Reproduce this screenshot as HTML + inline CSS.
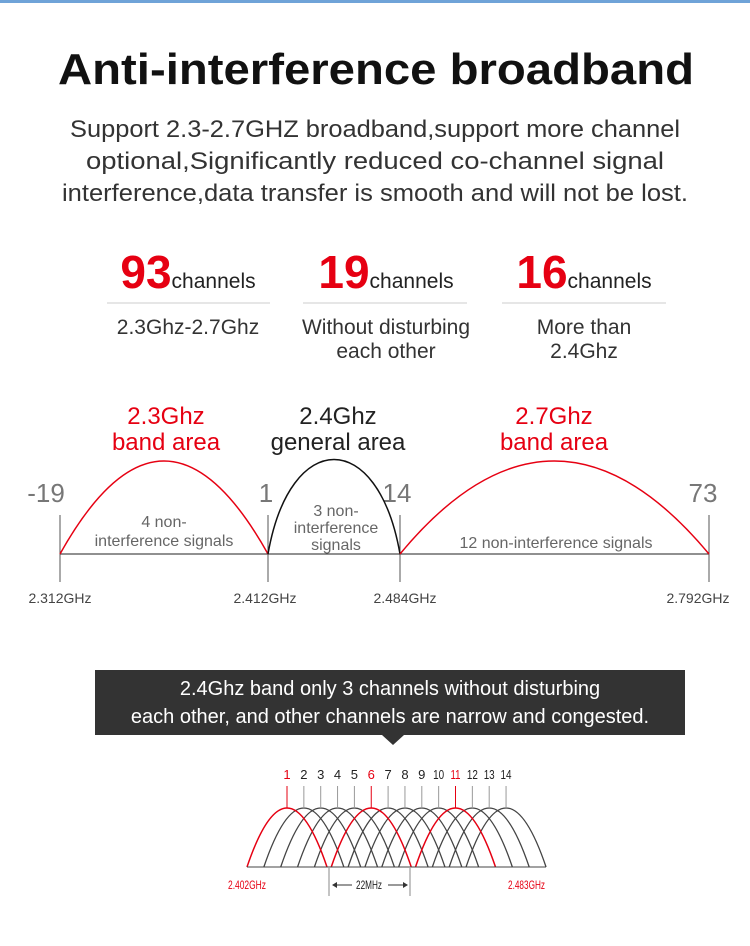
<!DOCTYPE html>
<html><head><meta charset="utf-8"><style>
body{margin:0;width:750px;height:946px;background:#fff;overflow:hidden;font-family:"Liberation Sans",sans-serif;}
svg{position:absolute;left:0;top:0}
</style></head><body>
<svg width="750" height="946" viewBox="0 0 750 946" xmlns="http://www.w3.org/2000/svg" font-family="Liberation Sans, sans-serif">
<rect x="0" y="0" width="750" height="3" fill="#6fa3d8"/>
<text x="376" y="84" text-anchor="middle" font-size="44" font-weight="bold" fill="#111" textLength="636" lengthAdjust="spacingAndGlyphs">Anti-interference  broadband</text>
<g font-size="24" fill="#333" text-anchor="middle">
<text x="375" y="137" textLength="610" lengthAdjust="spacingAndGlyphs">Support 2.3-2.7GHZ broadband,support more channel</text>
<text x="375" y="169" textLength="578" lengthAdjust="spacingAndGlyphs">optional,Significantly reduced co-channel signal</text>
<text x="375" y="201" textLength="626" lengthAdjust="spacingAndGlyphs">interference,data transfer is smooth and will not be lost.</text>
</g>
<g text-anchor="middle">
<text x="188" y="288"><tspan font-size="46" font-weight="bold" fill="#e60012">93</tspan><tspan font-size="21" fill="#222">channels</tspan></text>
<text x="386" y="288"><tspan font-size="46" font-weight="bold" fill="#e60012">19</tspan><tspan font-size="21" fill="#222">channels</tspan></text>
<text x="584" y="288"><tspan font-size="46" font-weight="bold" fill="#e60012">16</tspan><tspan font-size="21" fill="#222">channels</tspan></text>
</g>
<g stroke="#ccc" stroke-width="1"><line x1="107" y1="303" x2="270" y2="303"/><line x1="303" y1="303" x2="467" y2="303"/><line x1="502" y1="303" x2="666" y2="303"/></g>
<g font-size="21" fill="#333" text-anchor="middle">
<text x="188" y="334">2.3Ghz-2.7Ghz</text>
<text x="386" y="334">Without disturbing</text><text x="386" y="358">each other</text>
<text x="584" y="334">More than</text><text x="584" y="358">2.4Ghz</text>
</g>
<g font-size="24" text-anchor="middle">
<text x="166" y="424" fill="#e60012">2.3Ghz</text><text x="166" y="450" fill="#e60012">band area</text>
<text x="338" y="424" fill="#222">2.4Ghz</text><text x="338" y="450" fill="#222">general area</text>
<text x="554" y="424" fill="#e60012">2.7Ghz</text><text x="554" y="450" fill="#e60012">band area</text>
</g>
<g font-size="26" fill="#777" text-anchor="middle">
<text x="46" y="502">-19</text><text x="266" y="502">1</text><text x="397" y="502">14</text><text x="703" y="502">73</text>
</g>
<g stroke="#555" stroke-width="1">
<line x1="60" y1="515" x2="60" y2="582"/><line x1="268" y1="515" x2="268" y2="582"/><line x1="400" y1="515" x2="400" y2="582"/><line x1="709" y1="515" x2="709" y2="582"/>
<line x1="60" y1="554" x2="709" y2="554" stroke="#222"/>
</g>
<path d="M60 554 Q164 368 268 554" fill="none" stroke="#e60012" stroke-width="1.5"/>
<path d="M268 554 C290 428 378 428 400 554" fill="none" stroke="#111" stroke-width="1.5"/>
<path d="M400 554 Q554 368 709 554" fill="none" stroke="#e60012" stroke-width="1.5"/>
<g font-size="16" fill="#666" text-anchor="middle">
<text x="164" y="527">4 non-</text><text x="164" y="546">interference signals</text>
<text x="336" y="516">3 non-</text><text x="336" y="533">interference</text><text x="336" y="550">signals</text>
<text x="556" y="548">12 non-interference signals</text>
</g>
<g font-size="14" fill="#444" text-anchor="middle">
<text x="60" y="603">2.312GHz</text><text x="265" y="603">2.412GHz</text><text x="405" y="603">2.484GHz</text><text x="698" y="603">2.792GHz</text>
</g>
<rect x="95" y="670" width="590" height="65" fill="#333"/>
<polygon points="382,735 404,735 393,745" fill="#333"/>
<g font-size="20" fill="#fff" text-anchor="middle">
<text x="390" y="695">2.4Ghz band only 3 channels without disturbing</text>
<text x="390" y="723">each other, and other channels are narrow and congested.</text>
</g>
<g fill="none" stroke="#444" stroke-width="1.3">
<path d="M263.85 867 Q303.85 749 343.85 867"/>
<path d="M280.7 867 Q320.7 749 360.7 867"/>
<path d="M297.55 867 Q337.55 749 377.55 867"/>
<path d="M314.4 867 Q354.4 749 394.4 867"/>
<path d="M348.1 867 Q388.1 749 428.1 867"/>
<path d="M364.95 867 Q404.95 749 444.95 867"/>
<path d="M381.8 867 Q421.8 749 461.8 867"/>
<path d="M398.65 867 Q438.65 749 478.65 867"/>
<path d="M432.35 867 Q472.35 749 512.35 867"/>
<path d="M449.2 867 Q489.2 749 529.2 867"/>
<path d="M466.05 867 Q506.05 749 546.05 867"/>
</g>
<g fill="none" stroke="#e60012" stroke-width="1.5">
<path d="M247 867 Q287 749 327 867"/>
<path d="M331.25 867 Q371.25 749 411.25 867"/>
<path d="M415.5 867 Q455.5 749 495.5 867"/>
</g>
<line x1="247" y1="867" x2="546" y2="867" stroke="#444"/>
<g stroke="#999" stroke-width="1">
<line x1="303.85" y1="786" x2="303.85" y2="808"/><line x1="320.7" y1="786" x2="320.7" y2="808"/><line x1="337.55" y1="786" x2="337.55" y2="808"/><line x1="354.4" y1="786" x2="354.4" y2="808"/><line x1="388.1" y1="786" x2="388.1" y2="808"/><line x1="404.95" y1="786" x2="404.95" y2="808"/><line x1="421.8" y1="786" x2="421.8" y2="808"/><line x1="438.65" y1="786" x2="438.65" y2="808"/><line x1="472.35" y1="786" x2="472.35" y2="808"/><line x1="489.2" y1="786" x2="489.2" y2="808"/><line x1="506.05" y1="786" x2="506.05" y2="808"/>
</g>
<g stroke="#e60012" stroke-width="1"><line x1="287" y1="786" x2="287" y2="808"/><line x1="371.25" y1="786" x2="371.25" y2="808"/><line x1="455.5" y1="786" x2="455.5" y2="808"/></g>
<g font-size="13" fill="#222" text-anchor="middle">
<text x="287" y="779" fill="#e60012">1</text><text x="303.85" y="779">2</text><text x="320.7" y="779">3</text><text x="337.55" y="779">4</text><text x="354.4" y="779">5</text><text x="371.25" y="779" fill="#e60012">6</text><text x="388.1" y="779">7</text><text x="404.95" y="779">8</text><text x="421.8" y="779">9</text><text x="438.65" y="779" textLength="11" lengthAdjust="spacingAndGlyphs">10</text><text x="455.5" y="779" fill="#e60012" textLength="10" lengthAdjust="spacingAndGlyphs">11</text><text x="472.35" y="779" textLength="11" lengthAdjust="spacingAndGlyphs">12</text><text x="489.2" y="779" textLength="11" lengthAdjust="spacingAndGlyphs">13</text><text x="506.05" y="779" textLength="11" lengthAdjust="spacingAndGlyphs">14</text>
</g>
<g font-size="12" fill="#e60012"><text x="228" y="889" textLength="38" lengthAdjust="spacingAndGlyphs">2.402GHz</text><text x="508" y="889" textLength="37" lengthAdjust="spacingAndGlyphs">2.483GHz</text></g>
<g stroke="#888" stroke-width="1"><line x1="329" y1="868" x2="329" y2="896"/><line x1="410" y1="868" x2="410" y2="896"/>
<line x1="334" y1="885" x2="352" y2="885" stroke="#333"/><line x1="388" y1="885" x2="406" y2="885" stroke="#333"/></g>
<polygon points="332,885 337,882 337,888" fill="#333"/><polygon points="408,885 403,882 403,888" fill="#333"/>
<text x="369" y="889" font-size="12" fill="#222" text-anchor="middle" textLength="26" lengthAdjust="spacingAndGlyphs">22MHz</text>
</svg>
</body></html>
